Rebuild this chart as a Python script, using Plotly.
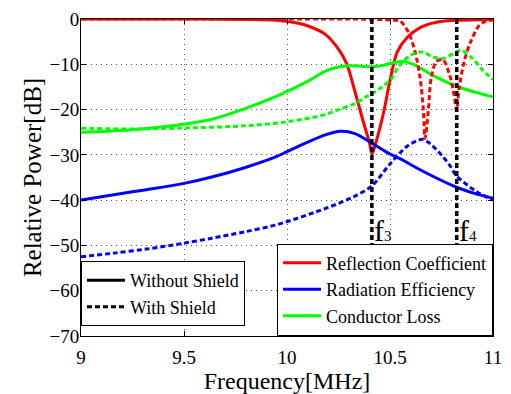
import plotly.graph_objects as go

# ---- data ----
red_solid_f = [9.0, 9.5, 9.8, 9.95, 10.05, 10.106, 10.186, 10.249, 10.289, 10.329, 10.368, 10.40, 10.413,
               10.44, 10.471, 10.498, 10.535, 10.583, 10.646, 10.725, 10.82, 11.0]
red_solid_db = [0, 0, -0.1, -0.3, -0.9, -1.6, -3.4, -6.6, -9.8, -15.9, -22.3, -27.3, -29.8,
                -25.9, -20.2, -14.0, -7.3, -4.1, -1.9, -0.7, -0.3, -0.1]

red_dash_f = [9.0, 10.0, 10.3, 10.45, 10.50, 10.55, 10.59, 10.622, 10.646, 10.662, 10.670, 10.686, 10.700,
              10.725, 10.757, 10.789, 10.813, 10.822, 10.837, 10.86, 10.89, 10.93, 10.96, 11.0]
red_dash_db = [0, 0, 0, -0.1, -0.2, -0.5, -3.0, -7.3, -13.0, -20.2, -26.4, -20.2, -13.0,
               -9.4, -9.0, -12.3, -17.3, -20.2, -14.9, -9.4, -5.2, -1.6, -0.6, -0.2]

green_solid_f = [9.0, 9.238, 9.471, 9.63, 9.789, 9.948, 10.0, 10.106, 10.186, 10.25, 10.30, 10.35,
                 10.413, 10.47, 10.52, 10.56, 10.614, 10.71, 10.82, 10.916, 11.0]
green_solid_db = [-25.0, -24.5, -23.4, -22.2, -19.9, -17.1, -16.0, -13.6, -11.5, -10.6, -10.35, -10.4,
                  -10.55, -10.2, -9.6, -9.4, -10.0, -12.5, -14.8, -16.2, -17.2]

green_dash_f = [9.0, 9.238, 9.476, 9.789, 10.0, 10.186, 10.25, 10.329, 10.39, 10.456, 10.51, 10.535,
                10.60, 10.654, 10.71, 10.757, 10.805, 10.844, 10.90, 10.948, 11.0]
green_dash_db = [-24.1, -24.3, -24.1, -23.6, -22.7, -21.1, -20.0, -18.7, -17.0, -15.2, -13.0, -10.9,
                 -8.0, -7.3, -8.4, -8.7, -7.7, -6.9, -8.7, -11.2, -13.4]

blue_solid_f = [9.0, 9.159, 9.317, 9.5, 9.635, 9.79, 9.948, 10.0, 10.106, 10.186, 10.257, 10.33, 10.408,
                10.487, 10.551, 10.63, 10.72, 10.82, 10.91, 11.0]
blue_solid_db = [-40.0, -38.8, -37.7, -36.3, -34.9, -32.9, -30.4, -29.3, -27.1, -25.6, -24.8, -25.3, -27.3,
                 -29.5, -30.9, -32.9, -35.0, -37.1, -38.5, -39.6]

blue_dash_f = [9.0, 9.159, 9.317, 9.5, 9.635, 9.794, 9.952, 10.2, 10.33, 10.413, 10.5, 10.58, 10.63,
               10.662, 10.725, 10.76, 10.79, 10.82, 10.916, 11.0]
blue_dash_db = [-52.5, -51.7, -50.8, -49.5, -48.4, -47.0, -45.4, -41.6, -39.1, -36.8, -32.0, -28.2, -26.9,
                -26.6, -28.8, -30.6, -32.3, -34.5, -38.0, -40.0]

marker_freqs = [10.412, 10.824]
marker_labels = ["3", "4"]

x_ticks = [9, 9.5, 10, 10.5, 11]
x_ticklabels = ["9", "9.5", "10", "10.5", "11"]
y_ticks = [0, -10, -20, -30, -40, -50, -60, -70]

RED, BLUE, GREEN = "#ff0000", "#0000ff", "#00ff00"
DASH = "5px,3px"
FONT = "Liberation Serif, Tinos, Times New Roman, DejaVu Serif, serif"

fig = go.Figure()

series = [
    (red_solid_f, red_solid_db, RED, "solid"),
    (blue_solid_f, blue_solid_db, BLUE, "solid"),
    (green_solid_f, green_solid_db, GREEN, "solid"),
    (red_dash_f, red_dash_db, RED, DASH),
    (blue_dash_f, blue_dash_db, BLUE, DASH),
    (green_dash_f, green_dash_db, GREEN, DASH),
]
for xs, ys, col, dash in series:
    fig.add_trace(go.Scatter(x=xs, y=ys, mode="lines", showlegend=False,
                             line=dict(color=col, width=3, dash=dash, shape="spline", smoothing=0.9)))

# vertical marker lines
for f in marker_freqs:
    fig.add_trace(go.Scatter(x=[f, f], y=[0, -70], mode="lines", showlegend=False,
                             line=dict(color="black", width=3.5, dash="5px,3px")))

# legend 1 (line style)
fig.add_trace(go.Scatter(x=[None], y=[None], mode="lines", name="Without Shield",
                         line=dict(color="black", width=3), legend="legend"))
fig.add_trace(go.Scatter(x=[None], y=[None], mode="lines", name="With Shield",
                         line=dict(color="black", width=3, dash=DASH), legend="legend"))
# legend 2 (quantities)
for name, col in [("Reflection Coefficient", RED), ("Radiation Efficiency", BLUE), ("Conductor Loss", GREEN)]:
    fig.add_trace(go.Scatter(x=[None], y=[None], mode="lines", name=name,
                             line=dict(color=col, width=3), legend="legend2"))

for f, lab in zip(marker_freqs, marker_labels):
    fig.add_annotation(x=f, y=-46.8, xref="x", yref="y",
                       text="f<span style='font-size:15px'>" + lab + "</span>",
                       showarrow=False, xanchor="left", yanchor="middle", xshift=0,
                       font=dict(family=FONT, size=30, color="black"))

axis_common = dict(showline=True, linecolor="black", linewidth=1, mirror="ticks",
                   ticks="inside", ticklen=5, tickcolor="black",
                   showgrid=True, gridcolor="#555555", gridwidth=1, griddash="1px,4px",
                   zeroline=False, tickfont=dict(family=FONT, size=19, color="black"))

fig.update_xaxes(range=[9, 11], tickvals=x_ticks, ticktext=x_ticklabels, ticklabelstandoff=4,
                 title=dict(text="Frequency[MHz]", font=dict(family=FONT, size=24, color="black"), standoff=0),
                 **axis_common)
fig.update_yaxes(range=[-70, 0], tickvals=y_ticks, ticklabelstandoff=-3,
                 title=dict(text="Relative Power[dB]", font=dict(family=FONT, size=25, color="black"), standoff=0),
                 **axis_common)

legend_common = dict(bgcolor="white", bordercolor="black", borderwidth=1,
                     yref="paper", xref="paper", tracegroupgap=0, itemwidth=38)
fig.update_layout(
    width=511, height=394,
    margin=dict(l=81, r=9, t=16, b=52),
    paper_bgcolor="white", plot_bgcolor="white",
    legend=dict(x=0, xanchor="left", y=0.031, yanchor="bottom",
                font=dict(family=FONT, size=18, color="black"), **legend_common),
    legend2=dict(x=1, xanchor="right", y=0.2914, yanchor="top",
                 font=dict(family=FONT, size=18, color="black"), **legend_common),
)

fig.write_html("out.html")
